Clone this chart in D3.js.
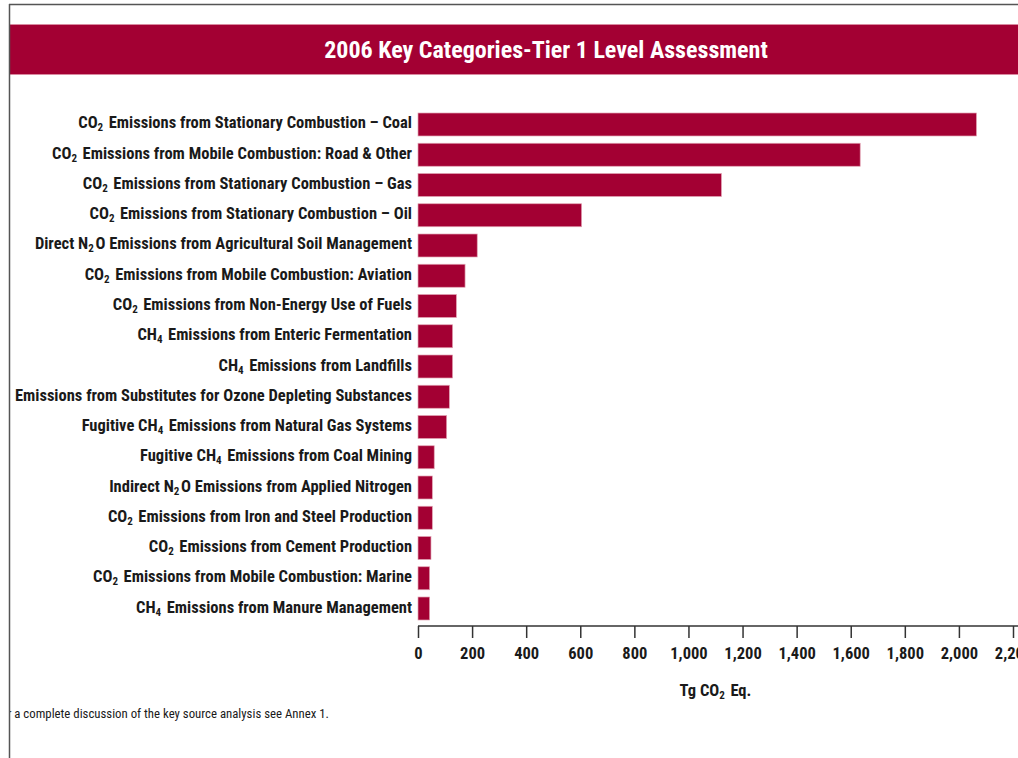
<!DOCTYPE html>
<html>
<head>
<meta charset="utf-8">
<script src="https://cdn.jsdelivr.net/npm/d3@7"></script>
<style>
  html, body { margin: 0; padding: 0; background: #fff; }
  svg { display: block; }
  .cond { font-family: "Liberation Sans Narrow", "Arial Narrow", "Roboto Condensed", "DejaVu Sans Condensed", sans-serif; }
</style>
</head>
<body>
<svg id="chart" width="1018" height="758"></svg>
<script>
// Key categories, largest first. "_2" marks a subscript digit.
const categories = [
  "CO_2 Emissions from Stationary Combustion – Coal",
  "CO_2 Emissions from Mobile Combustion: Road & Other",
  "CO_2 Emissions from Stationary Combustion – Gas",
  "CO_2 Emissions from Stationary Combustion – Oil",
  "Direct N_2O Emissions from Agricultural Soil Management",
  "CO_2 Emissions from Mobile Combustion: Aviation",
  "CO_2 Emissions from Non-Energy Use of Fuels",
  "CH_4 Emissions from Enteric Fermentation",
  "CH_4 Emissions from Landfills",
  "Emissions from Substitutes for Ozone Depleting Substances",
  "Fugitive CH_4 Emissions from Natural Gas Systems",
  "Fugitive CH_4 Emissions from Coal Mining",
  "Indirect N_2O Emissions from Applied Nitrogen",
  "CO_2 Emissions from Iron and Steel Production",
  "CO_2 Emissions from Cement Production",
  "CO_2 Emissions from Mobile Combustion: Marine",
  "CH_4 Emissions from Manure Management"
];
// Tg CO2 Eq.
const values = [2065, 1635, 1122, 605, 219, 174, 142, 128, 128, 116, 106, 60, 53, 53, 48, 43, 43];
const tickValues = [0, 200, 400, 600, 800, 1000, 1200, 1400, 1600, 1800, 2000, 2200];
const title = "2006 Key Categories-Tier 1 Level Assessment";
const axisTitle = "Tg CO_2 Eq.";
const footnote = "For a complete discussion of the key source analysis see Annex 1.";

const RED = "#a30033";
const svg = d3.select("#chart");

// clip region inside the page frame
svg.append("defs").append("clipPath").attr("id", "page")
  .append("rect").attr("x", 10).attr("y", 5).attr("width", 1010).attr("height", 760);

const page = svg.append("g").attr("clip-path", "url(#page)");

// writes text with "_n" segments as subscripts
function richText(sel, str, subSize) {
  const parts = str.split(/_(\d)/);
  parts.forEach((p, i) => {
    if (!p) return;
    if (i % 2 === 1) {
      sel.append("tspan").attr("dy", 3).style("font-size", subSize + "px").text(p);
      sel.append("tspan").attr("dy", -3).text("\u200a");
    } else {
      sel.append("tspan").text(p);
    }
  });
}

// title banner
page.append("rect").attr("x", 9).attr("y", 24).attr("width", 1012).attr("height", 51).attr("fill", RED);
page.append("line").attr("x1", 9).attr("x2", 1018).attr("y1", 24.5).attr("y2", 24.5).attr("stroke", "#d98aa0").attr("stroke-width", 1);
page.append("line").attr("x1", 9).attr("x2", 1018).attr("y1", 74.5).attr("y2", 74.5).attr("stroke", "#d98aa0").attr("stroke-width", 1);
page.append("text").attr("class", "cond")
  .attr("x", 546).attr("y", 58).attr("text-anchor", "middle")
  .attr("fill", "#fff").style("font-size", "24px").style("font-weight", "bold")
  .text(title);

// scales
const x = d3.scaleLinear().domain([0, 2200]).range([418, 1013]);
const y = d3.scaleBand().domain(categories).range([113, 620]).paddingInner(0.24).paddingOuter(0);

// bars
page.append("g").selectAll("rect").data(values).join("rect")
  .attr("x", x(0))
  .attr("y", (d, i) => y(categories[i]))
  .attr("width", d => x(d) - x(0))
  .attr("height", y.bandwidth())
  .attr("fill", RED)
  .attr("stroke", "#e2a3b4").attr("stroke-width", 0.7);

// category labels
page.append("g").selectAll("text").data(categories).join("text")
  .attr("class", "cond")
  .attr("x", 412)
  .attr("y", d => y(d) + y.bandwidth() / 2 + 4)
  .attr("text-anchor", "end")
  .attr("fill", "#1a1a1a")
  .style("font-size", "16.5px").style("font-weight", "bold")
  .each(function (d) { richText(d3.select(this), d, 11); });

// x axis
const axis = d3.axisBottom(x).tickValues(tickValues).tickSize(12).tickFormat(d3.format(","));
const gx = page.append("g").attr("transform", "translate(0,626)").call(axis);
gx.select(".domain").remove();
gx.selectAll(".tick line").attr("stroke", "#333").attr("stroke-width", 1.5);
gx.selectAll(".tick text").attr("class", "cond").attr("y", 21)
  .attr("fill", "#1a1a1a").style("font-size", "16.5px").style("font-weight", "bold");
page.append("line").attr("x1", x(0)).attr("x2", 1018).attr("y1", 626).attr("y2", 626)
  .attr("stroke", "#333").attr("stroke-width", 1.5);

// axis title
page.append("text").attr("class", "cond")
  .attr("x", (x(0) + x(2200)) / 2).attr("y", 696).attr("text-anchor", "middle")
  .attr("fill", "#1a1a1a").style("font-size", "16.5px").style("font-weight", "bold")
  .each(function () { richText(d3.select(this), axisTitle, 11); });

// footnote
page.append("text").attr("class", "cond")
  .attr("x", -5).attr("y", 718)
  .attr("fill", "#1a1a1a").style("font-size", "12.8px")
  .text(footnote);

// page frame
svg.append("line").attr("x1", 9.5).attr("x2", 9.5).attr("y1", 4).attr("y2", 758).attr("stroke", "#555").attr("stroke-width", 1.5);
svg.append("line").attr("x1", 9).attr("x2", 1018).attr("y1", 4.5).attr("y2", 4.5).attr("stroke", "#555").attr("stroke-width", 1.5);
</script>
</body>
</html>
